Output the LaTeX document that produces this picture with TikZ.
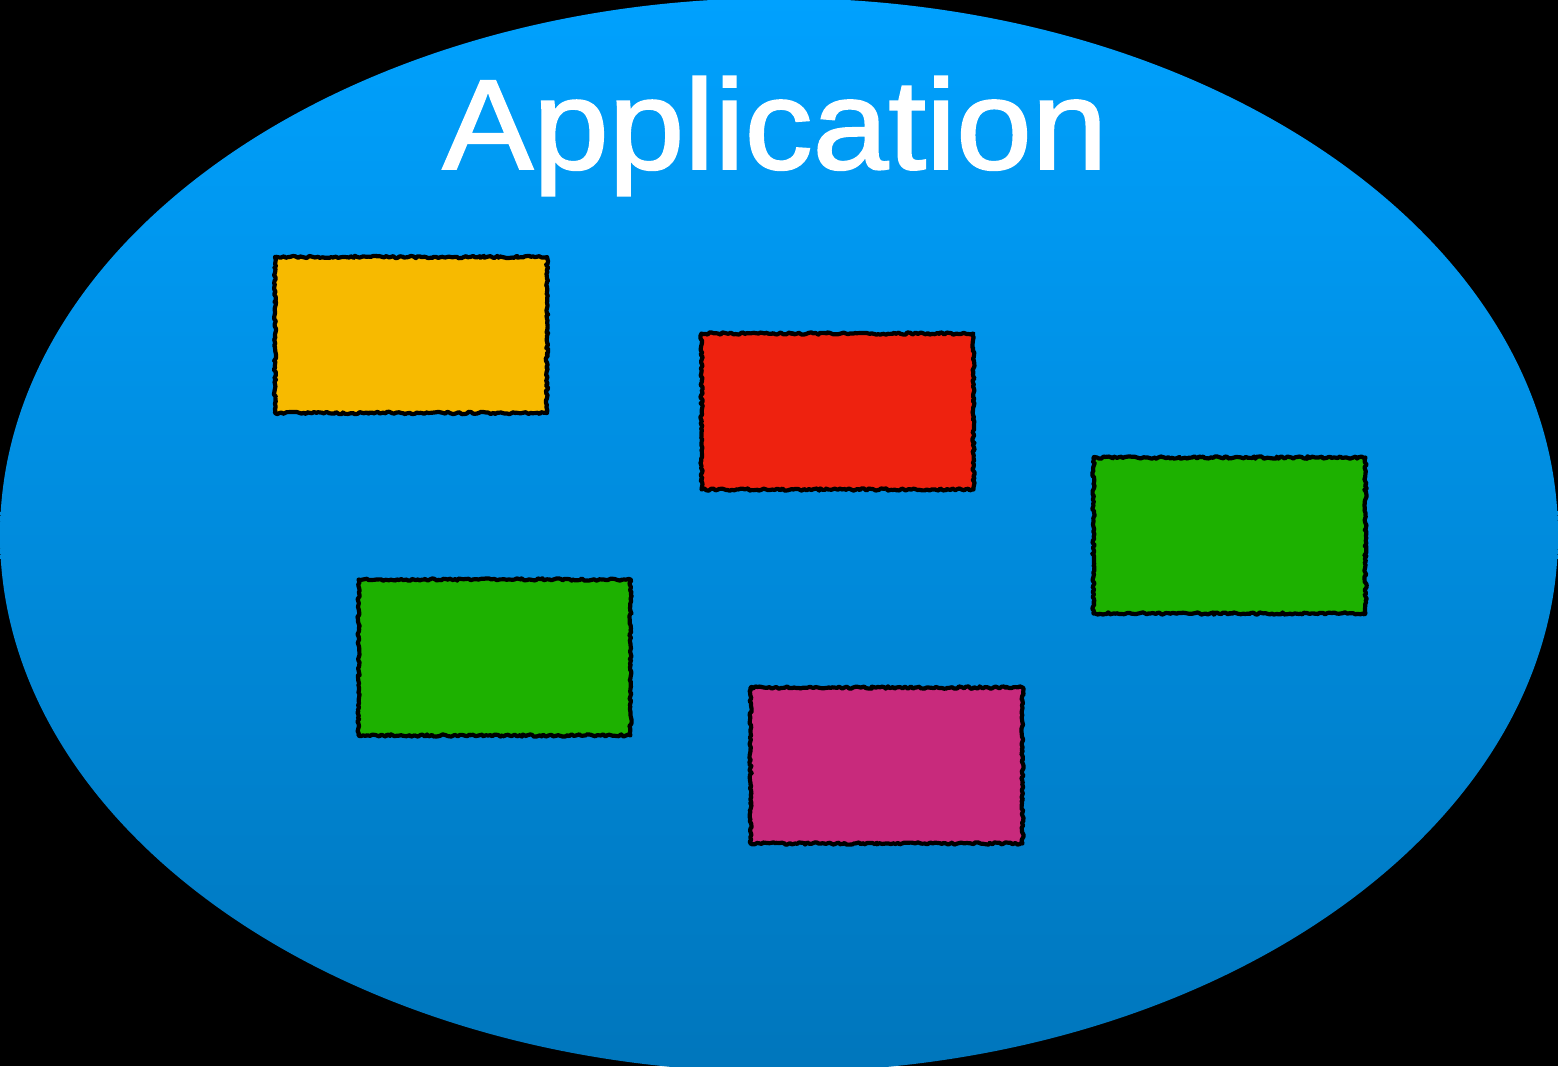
\documentclass[tikz,border=0pt]{standalone}
\usepackage{fontspec}
\setmainfont{Liberation Sans}
\newfontfamily\titlefont[FakeBold=1.5]{Liberation Sans}
\usetikzlibrary{decorations.pathmorphing}
\definecolor{skytop}{RGB}{0,161,254}
\definecolor{skybot}{RGB}{0,118,188}
\definecolor{boxyellow}{RGB}{247,186,0}
\definecolor{boxred}{RGB}{238,34,15}
\definecolor{boxgreen}{RGB}{29,177,0}
\definecolor{boxmagenta}{RGB}{200,42,124}
\tikzset{
  sketchbox/.style={draw=black, line width=4.2pt, line join=round, minimum width=272pt, minimum height=156pt,
    inner sep=0pt, decorate, decoration={random steps, segment length=2.2pt, amplitude=1.2pt}},
}
\begin{document}
\begin{tikzpicture}[x=1pt,y=-1pt]
\fill[black] (0,0) rectangle (1558,1066);
\useasboundingbox (0,0) rectangle (1558,1066);
\begin{scope}
\clip (0,0) rectangle (1558,1066);
\shade[top color=skytop, bottom color=skybot] (779,535) ellipse [x radius=779, y radius=537];
\end{scope}
\node[anchor=base, text=white, inner sep=0pt] (title) at (775,169)
  {\scalebox{1.062}[1]{\titlefont\fontsize{128}{128}\selectfont Application}};
\node[sketchbox, fill=boxyellow] (yellow) at (411,335) {};
\node[sketchbox, fill=boxred] (red) at (837.5,411.5) {};
\node[sketchbox, fill=boxgreen] (greenR) at (1229.5,535.5) {};
\node[sketchbox, fill=boxgreen] (greenL) at (494.5,657.5) {};
\node[sketchbox, fill=boxmagenta] (magenta) at (886.5,765.5) {};
\end{tikzpicture}
\end{document}
